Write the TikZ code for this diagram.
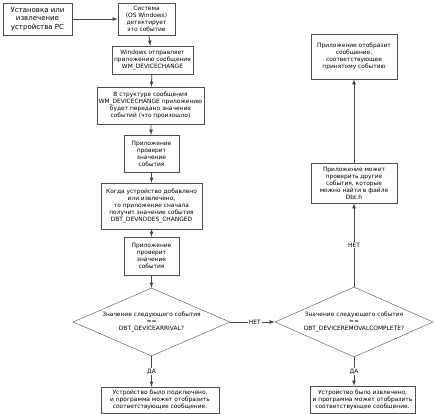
\documentclass[tikz,border=0pt]{standalone}
\usepackage{fontspec}
\setmainfont{DejaVu Sans}
\usetikzlibrary{shapes.geometric}

\begin{document}
\begin{tikzpicture}[x=1pt,y=-1pt,>=latex,
    box/.style={draw=gray!60!black, fill=white, align=center, inner sep=1pt,
        font=\fontsize{5.9}{7}\selectfont},
    cond/.style={box, diamond, aspect=2.3, inner sep=0pt},
    arr/.style={->, draw=gray!55!black, line width=0.8pt},
    lbl/.style={fill=white, inner sep=1pt, font=\fontsize{5.9}{7}\selectfont}]
    \useasboundingbox (0,0) rectangle (434,414);
    % left column
    \node[box, minimum width=69, minimum height=32, font=\fontsize{7}{8.5}\selectfont] (start) at (37.5,19) {Установка или\\извлечение\\устройства PC};
    \node[box, minimum width=57, minimum height=32] (sys) at (146.5,19) {Система\\(OS Windows)\\детектирует\\это событие};
    \node[box, minimum width=81, minimum height=28] (send) at (152.5,60) {Windows отправляет\\приложению сообщение\\WM\_DEVICECHANGE};
    \node[box, minimum width=107, minimum height=37] (struct) at (150.5,105.5) {В структуре сообщения\\WM\_DEVICECHANGE приложению\\будет передано значение\\событий (что произошло)};
    \node[box, minimum width=55, minimum height=37] (checka) at (151.5,153.5) {Приложение\\проверит\\значение\\события};
    \node[box, minimum width=101, minimum height=46] (added) at (151.5,206) {Когда устройство добавлено\\или извлечено,\\то приложение сначала\\получит значение события\\DBT\_DEVNODES\_CHANGED};
    \node[box, minimum width=55, minimum height=38] (checkb) at (151.5,256) {Приложение\\проверит\\значение\\события};
    \node[cond, minimum width=157, minimum height=68] (arrival) at (151.5,322) {Значение следующего события\\==\\DBT\_DEVICEARRIVAL?};
    \node[box, minimum width=118, minimum height=26] (connected) at (160,400) {Устройство было подключено,\\и программа может отобразить\\соответствующее сообщение.};
    % right column
    \node[cond, minimum width=158, minimum height=70] (removal) at (354,322) {Значение следующего события\\==\\DBT\_DEVICEREMOVALCOMPLETE?};
    \node[box, minimum width=105, minimum height=27] (removed) at (362.5,399.5) {Устройство было извлечено,\\и программа может отобразить\\соответствующее сообщение.};
    \node[box, minimum width=86, minimum height=40] (other) at (354,183) {Приложение может\\проверить другие\\события, которые\\можно найти в файле\\Dbt.h};
    \node[box, minimum width=86, minimum height=45] (show) at (354,56.5) {Приложение отобразит\\сообщение,\\соответствующее\\принятому событию};

    \draw[arr] (start) -- (sys);
    \draw[arr] (sys) -- (send);
    \draw[arr] (send) -- (struct);
    \draw[arr] (struct) -- (checka);
    \draw[arr] (checka) -- (added);
    \draw[arr] (added) -- (checkb);
    \draw[arr] (checkb) -- (arrival);
    \draw[arr] (arrival.south) -- node[lbl] {ДА} (arrival.south |- connected.north);
    \draw[arr] (arrival.east) -- node[lbl, pos=0.55] {НЕТ} (removal.west);
    \draw[arr] (removal.south) -- node[lbl] {ДА} (removal.south |- removed.north);
    \draw[arr] (removal.north) -- node[lbl] {НЕТ} (other.south);
    \draw[arr] (other) -- (show);
\end{tikzpicture}
\end{document}
